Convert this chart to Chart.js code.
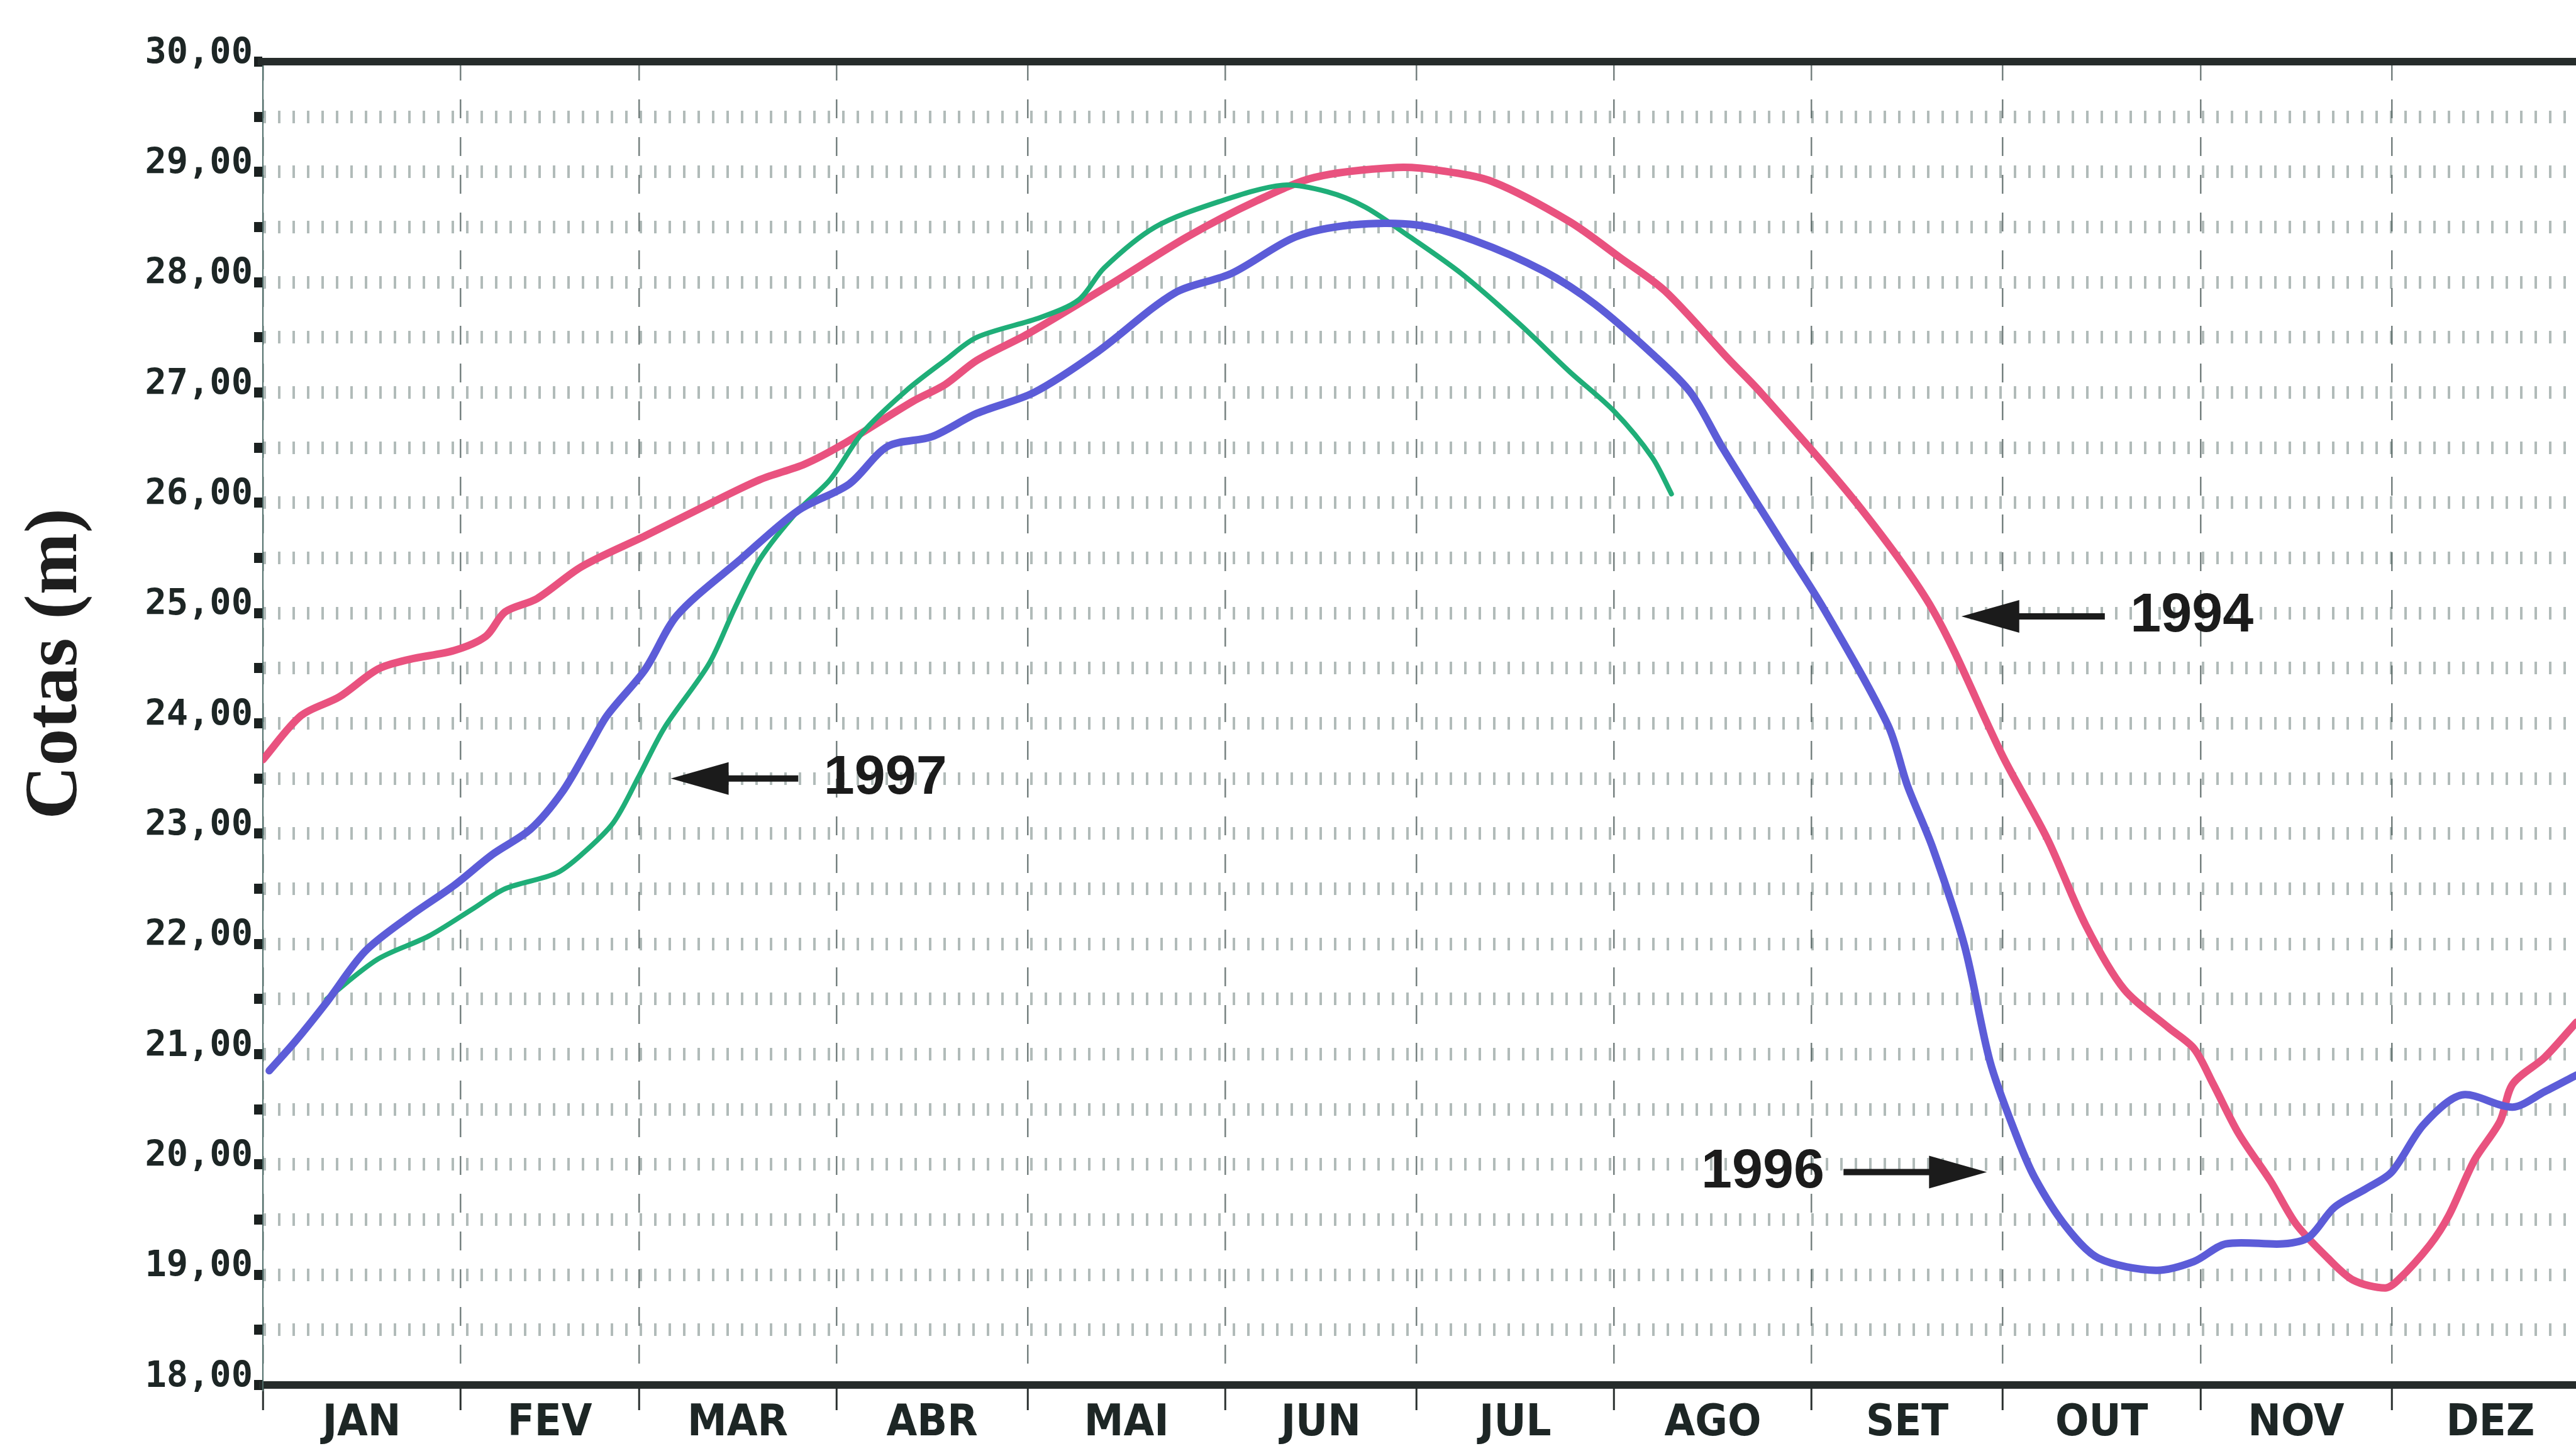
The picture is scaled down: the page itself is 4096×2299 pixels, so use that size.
<!DOCTYPE html>
<html>
<head>
<meta charset="utf-8">
<script src="https://cdn.jsdelivr.net/npm/chart.js@4.4.1/dist/chart.umd.min.js"></script>
<style>
  html, body { margin: 0; padding: 0; background: #fff; overflow: hidden; }
  #wrap { position: relative; width: 4120px; height: 2299px; }
</style>
</head>
<body>
<div id="wrap"><canvas id="cotas-chart"></canvas></div>
<script>
'use strict';

// ------- data (x = day of year, y = cota in m) ------- //
const monthNames = ['JAN', 'FEV', 'MAR', 'ABR', 'MAI', 'JUN', 'JUL', 'AGO', 'SET', 'OUT', 'NOV', 'DEZ'];
const monthStarts = [0, 31, 59, 90, 120, 151, 181, 212, 243, 273, 304, 334, 365];

const days1994 = [0, 6, 12, 18, 23, 30, 35, 38, 43, 50, 60, 69, 78, 85, 91, 102, 107, 112, 120, 133,
  145, 156, 165, 178, 185, 193, 205, 213, 220, 230, 235, 250, 262, 273, 280, 286, 292, 299, 303, 306,
  310, 315, 319, 324, 328, 333, 335, 340, 343, 347, 351, 353, 358, 363];
const cota1994 = [23.67, 24.07, 24.24, 24.49, 24.58, 24.66, 24.79, 25.01, 25.13, 25.42, 25.70, 25.96, 26.21, 26.35, 26.53, 26.92, 27.07, 27.29, 27.53, 27.98,
  28.41, 28.74, 28.95, 29.04, 29.01, 28.91, 28.55, 28.22, 27.92, 27.30, 27.00, 26.00, 25.03, 23.70, 22.95, 22.17, 21.59, 21.24, 21.05, 20.73,
  20.28, 19.85, 19.46, 19.15, 18.95, 18.88, 18.95, 19.27, 19.54, 20.04, 20.39, 20.73, 20.97, 21.29];

const days1996 = [1, 5, 10, 16, 23, 30, 36, 42, 47, 51, 54, 60, 65, 75, 84, 92, 98, 105, 112, 121,
  131, 143, 152, 162, 171, 181, 190, 201, 209, 218, 224, 229, 238, 245, 255, 258, 262, 267, 271, 275,
  278, 283, 288, 297, 303, 308, 317, 321, 325, 330, 334, 339, 345, 353, 358, 363];
const cota1996 = [20.85, 21.11, 21.47, 21.93, 22.25, 22.53, 22.81, 23.04, 23.38, 23.77, 24.07, 24.49, 24.98, 25.49, 25.93, 26.17, 26.51, 26.60, 26.81, 27.00,
  27.37, 27.90, 28.08, 28.41, 28.52, 28.52, 28.38, 28.10, 27.80, 27.35, 27.00, 26.50, 25.67, 25.03, 23.98, 23.44, 22.87, 21.98, 20.93, 20.28,
  19.88, 19.43, 19.15, 19.04, 19.12, 19.28, 19.28, 19.34, 19.61, 19.78, 19.93, 20.36, 20.63, 20.52, 20.66, 20.81];

const days1997 = [10, 18, 26, 33, 38, 46, 50, 55, 59, 63, 70, 74, 78, 84, 89, 94, 101, 107, 112, 122,
  128, 132, 140, 150, 160, 167, 173, 180, 188, 197, 205, 212, 218, 221];
const cota1997 = [21.50, 21.86, 22.07, 22.32, 22.50, 22.64, 22.81, 23.10, 23.52, 23.96, 24.54, 25.04, 25.49, 25.93, 26.21, 26.63, 27.02, 27.29, 27.50, 27.68,
  27.84, 28.13, 28.50, 28.73, 28.88, 28.82, 28.68, 28.41, 28.08, 27.63, 27.19, 26.83, 26.41, 26.08];

// arrows pointing at each curve (data coordinates)
const arrowNotes = [
  { text: '1997', y: 23.50, tail: 84, head: 64, textAt: 88, align: 'left' },
  { text: '1994', y: 24.97, tail: 289, head: 266.5, textAt: 293, align: 'left' },
  { text: '1996', y: 19.93, tail: 248, head: 270.5, textAt: 245, align: 'right' },
];

// x ticks: month boundaries (grid) and month centres (labels)
const xTickValues = [];
monthStarts.forEach((d, i) => {
  xTickValues.push(d);
  if (i < monthStarts.length - 1) xTickValues.push((d + monthStarts[i + 1]) / 2);
});

const toPoints = (xs, ys) => xs.map((x, i) => ({ x: x, y: ys[i] }));

// ------- extra drawing: frame top, axis title, arrows ------- //
const decorations = {
  id: 'decorations',
  afterDraw(chart) {
    const { ctx, chartArea, scales } = chart;
    const xs = scales.x;
    const ys = scales.y;
    ctx.save();

    // thick top frame line
    ctx.strokeStyle = '#262c2b';
    ctx.lineWidth = 12;
    ctx.beginPath();
    ctx.moveTo(chartArea.left - 8, chartArea.top);
    ctx.lineTo(chartArea.right, chartArea.top);
    ctx.stroke();

    // y axis title
    ctx.save();
    ctx.translate(91, ys.getPixelForValue(24.54));
    ctx.rotate(-Math.PI / 2);
    ctx.fillStyle = '#1e1e1e';
    ctx.font = "bold 118px 'Liberation Serif', 'DejaVu Serif', serif";
    ctx.textAlign = 'center';
    ctx.textBaseline = 'middle';
    ctx.fillText('Cotas (m)', 0, 0);
    ctx.restore();

    // arrows + year labels
    const headLen = 92;
    const headHalf = 26;
    arrowNotes.forEach((n) => {
      const x1 = xs.getPixelForValue(n.tail);
      const x2 = xs.getPixelForValue(n.head);
      const y = ys.getPixelForValue(n.y);
      const dir = Math.sign(x2 - x1);
      ctx.fillStyle = '#1b1b1b';
      ctx.strokeStyle = '#1b1b1b';
      ctx.lineWidth = 10;
      ctx.beginPath();
      ctx.moveTo(x1, y);
      ctx.lineTo(x2 - dir * headLen * 0.8, y);
      ctx.stroke();
      ctx.beginPath();
      ctx.moveTo(x2, y);
      ctx.lineTo(x2 - dir * headLen, y - headHalf);
      ctx.lineTo(x2 - dir * headLen, y + headHalf);
      ctx.closePath();
      ctx.fill();

      ctx.font = "bold 88px 'Liberation Sans', Arial, sans-serif";
      ctx.textAlign = n.align;
      ctx.textBaseline = 'middle';
      ctx.fillText(n.text, xs.getPixelForValue(n.textAt), y);
    });
    ctx.restore();
  },
};

const isWhole = (v) => Math.abs(v - Math.round(v)) < 1e-6;

new Chart(document.getElementById('cotas-chart'), {
  type: 'line',
  data: {
    datasets: [
      {
        label: '1994',
        data: toPoints(days1994, cota1994),
        borderColor: '#e9527f',
        borderWidth: 12,
        order: 3,
      },
      {
        label: '1996',
        data: toPoints(days1996, cota1996),
        borderColor: '#5c5cd8',
        borderWidth: 12,
        order: 1,
      },
      {
        label: '1997',
        data: toPoints(days1997, cota1997),
        borderColor: '#1fae78',
        borderWidth: 8,
        order: 2,
      },
    ],
  },
  options: {
    responsive: true,
    maintainAspectRatio: false,
    devicePixelRatio: 1,
    animation: false,
    layout: { padding: { top: 98, right: 3, left: 0, bottom: 0 } },
    elements: {
      point: { radius: 0 },
      line: { tension: 0.3, fill: false, borderCapStyle: 'round', borderJoinStyle: 'round' },
    },
    scales: {
      x: {
        type: 'linear',
        min: 0,
        max: 365,
        afterBuildTicks: (scale) => {
          scale.ticks = xTickValues.map((v) => ({ value: v }));
        },
        afterFit: (scale) => {
          scale.height = 97;
        },
        ticks: {
          autoSkip: false,
          maxRotation: 0,
          minRotation: 0,
          padding: -20,
          color: '#1d2625',
          font: { family: "'Liberation Sans Narrow', 'DejaVu Sans Condensed', 'Liberation Sans', sans-serif", weight: 'bold', size: 70 },
          callback: (v, i) => (i % 2 === 1 ? monthNames[(i - 1) / 2] : ''),
        },
        grid: {
          color: (c) => (c.index % 2 === 0 ? 'rgba(45, 62, 60, 0.65)' : 'rgba(0, 0, 0, 0)'),
          lineWidth: 2.5,
          tickLength: 40,
          tickWidth: 3,
          tickColor: (c) => (c.index % 2 === 0 ? '#2a302f' : 'rgba(0, 0, 0, 0)'),
          tickBorderDash: [],
        },
        border: { display: true, width: 12, color: '#262c2b', dash: [30, 30] },
      },
      y: {
        min: 18,
        max: 30,
        afterFit: (scale) => {
          scale.width = 418;
        },
        ticks: {
          stepSize: 0.5,
          autoSkip: false,
          padding: 2,
          labelOffset: -12,
          color: '#1d2625',
          font: { family: "'DejaVu Sans Mono', monospace", weight: 'bold', size: 57 },
          callback: (v) => (isWhole(v) ? Number(v).toFixed(2).replace('.', ',') : ''),
        },
        grid: {
          color: (c) => (c.tick && (c.tick.value === 18 || c.tick.value === 30) ? 'rgba(0, 0, 0, 0)' : 'rgba(70, 92, 88, 0.42)'),
          lineWidth: 20,
          tickLength: 14,
          tickWidth: 16,
          tickColor: '#1b2120',
          tickBorderDash: [],
        },
        border: { display: true, width: 2, color: '#4f6d69', dash: [4, 19] },
      },
    },
    plugins: {
      legend: { display: false },
      tooltip: { enabled: false },
    },
  },
  plugins: [decorations],
});
</script>
</body>
</html>
